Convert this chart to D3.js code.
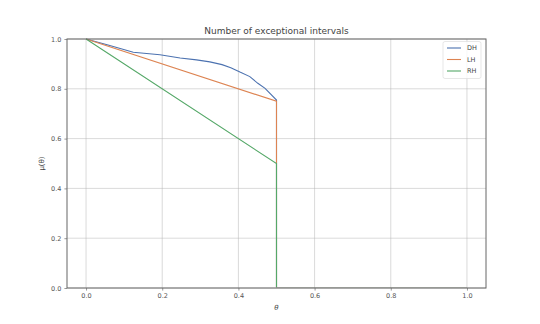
<!DOCTYPE html>
<html><head><meta charset="utf-8">
<script src="https://cdn.jsdelivr.net/npm/d3@7"></script>
<style>body{margin:0;background:#fff}svg{display:block;font-family:"DejaVu Sans",sans-serif}</style>
</head><body><svg id="c" width="540" height="324"></svg>
<script>
const thetaDH = [0, 0.06, 0.124, 0.194, 0.247, 0.29, 0.325, 0.357, 0.38, 0.404, 0.43, 0.451, 0.47, 0.5, 0.5, 1.0];
const valuesDH = [1, 0.975, 0.947, 0.937, 0.924, 0.916, 0.908, 0.897, 0.885, 0.867, 0.849, 0.822, 0.802, 0.755, 0, 0];
const thetaLH = [0, 0.5, 0.5, 1.0];
const valuesLH = [1, 0.75, 0, 0];
const thetaRH = [0, 0.5, 0.5, 1.0];
const valuesRH = [1, 0.5, 0, 0];
const seriesNames = ["DH", "LH", "RH"];
const seriesColors = ["#4c72b0", "#dd8452", "#55a868"];
const xTicks = [0.0, 0.2, 0.4, 0.6, 0.8, 1.0];
const yTicks = [0.0, 0.2, 0.4, 0.6, 0.8, 1.0];
const titleText = "Number of exceptional intervals";

const svg = d3.select("#c");
const L = 67, R = 486, T = 39, B = 288;
const x = d3.scaleLinear().domain([-0.05, 1.05]).range([L, R]);
const y = d3.scaleLinear().domain([0, 1]).range([B, T]);

// grid
const g = svg.append("g");
g.selectAll(".gx").data(xTicks).join("line")
  .attr("x1", d => x(d)).attr("x2", d => x(d)).attr("y1", T).attr("y2", B)
  .attr("stroke", "#b0b0b0").attr("stroke-opacity", 0.6).attr("stroke-width", 0.8);
g.selectAll(".gy").data(yTicks).join("line")
  .attr("y1", d => y(d)).attr("y2", d => y(d)).attr("x1", L).attr("x2", R)
  .attr("stroke", "#b0b0b0").attr("stroke-opacity", 0.6).attr("stroke-width", 0.8);

// axes
const xAxis = d3.axisBottom(x).tickValues(xTicks).tickFormat(d3.format(".1f")).tickSize(2.6).tickPadding(3);
const yAxis = d3.axisLeft(y).tickValues(yTicks).tickFormat(d3.format(".1f")).tickSize(2.6).tickPadding(3);
const ax = svg.append("g").attr("transform", `translate(0,${B})`).call(xAxis);
const ay = svg.append("g").attr("transform", `translate(${L},0)`).call(yAxis);
[ax, ay].forEach(a => {
  a.select(".domain").remove();
  a.selectAll(".tick line").attr("stroke", "#555").attr("stroke-width", 0.6);
  a.selectAll(".tick text").attr("fill", "#555").attr("font-size", "6.5px").attr("font-family", "DejaVu Sans");
});

// lines (clipped so the zero tail sits under the bottom spine like the reference)
svg.append("clipPath").attr("id", "clip").append("rect")
  .attr("x", L).attr("y", T - 2).attr("width", R - L).attr("height", B - T + 1.2);
const line = d3.line().x(d => x(d[0])).y(d => y(d[1]));
const series = [
  thetaDH.map((t, i) => [t, valuesDH[i]]),
  thetaLH.map((t, i) => [t, valuesLH[i]]),
  thetaRH.map((t, i) => [t, valuesRH[i]])
];
const lg0 = svg.append("g").attr("clip-path", "url(#clip)");
series.forEach((s, i) => {
  lg0.append("path").datum(s).attr("d", line).attr("fill", "none")
    .attr("stroke", seriesColors[i]).attr("stroke-width", 1.1);
});

// frame
svg.append("rect").attr("x", L).attr("y", T).attr("width", R - L).attr("height", B - T)
  .attr("fill", "none").attr("stroke", "#666").attr("stroke-width", 1);

// title & labels
svg.append("text").attr("x", (L + R) / 2).attr("y", 34).attr("text-anchor", "middle")
  .attr("font-size", "9px").attr("fill", "#444").text(titleText);
svg.append("text").attr("x", (L + R) / 2).attr("y", 310).attr("text-anchor", "middle")
  .attr("font-size", "7px").attr("fill", "#444").attr("font-style", "italic").text("θ");
svg.append("text").attr("transform", `translate(44,${(T + B) / 2}) rotate(-90)`).attr("text-anchor", "middle")
  .attr("font-size", "7px").attr("fill", "#444").text("μ(θ)");

// legend
const lg = svg.append("g");
lg.append("rect").attr("x", 443).attr("y", 41.5).attr("width", 38).attr("height", 37).attr("rx", 2)
  .attr("fill", "#fff").attr("fill-opacity", 0.8).attr("stroke", "#ddd").attr("stroke-width", 0.7);
seriesNames.forEach((n, i) => {
  const yy = 48 + i * 11.5;
  lg.append("line").attr("x1", 447).attr("x2", 461).attr("y1", yy).attr("y2", yy)
    .attr("stroke", seriesColors[i]).attr("stroke-width", 1.1);
  lg.append("text").attr("x", 467).attr("y", yy + 2.3).attr("font-size", "6.5px").attr("fill", "#444").text(n);
});
</script></body></html>
